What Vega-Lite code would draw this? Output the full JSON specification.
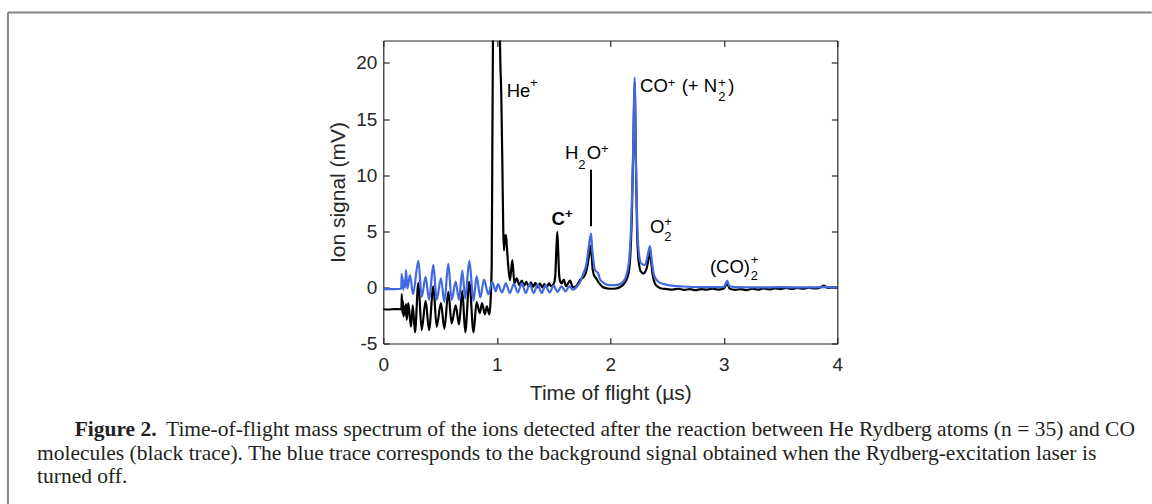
{
  "$schema": "https://vega.github.io/schema/vega-lite/v6.json",
  "autosize": "none",
  "width": 454,
  "height": 303,
  "padding": {"left": 383.3, "top": 40.5, "right": 314.7, "bottom": 160.5},
  "background": "white",
  "config": {
    "view": {"stroke": null},
    "font": "Liberation Sans",
    "axis": {
      "grid": false,
      "labelFlush": false,
      "domainColor": "#262626",
      "domainWidth": 1.2,
      "tickColor": "#262626",
      "tickWidth": 1.2,
      "tickSize": -6,
      "labelColor": "#262626",
      "labelFont": "Liberation Sans",
      "labelFontSize": 19,
      "titleColor": "#262626",
      "titleFont": "Liberation Sans",
      "titleFontSize": 21,
      "titleFontWeight": "normal"
    }
  },
  "title": {
    "text": "\u200b\u00a0\u00a0\u00a0\u00a0\u00a0\u00a0\u00a0Figure 2.",
    "subtitle": [
      "\u200b\u00a0\u00a0\u00a0\u00a0\u00a0\u00a0\u00a0\u00a0\u00a0\u00a0\u00a0\u00a0\u00a0\u00a0\u00a0\u00a0\u00a0\u00a0\u00a0\u00a0\u00a0\u00a0\u00a0\u00a0Time-of-flight mass spectrum of the ions detected after the reaction between He Rydberg atoms (n = 35) and CO",
      "molecules (black trace). The blue trace corresponds to the background signal obtained when the Rydberg-excitation laser is",
      "turned off."
    ],
    "orient": "bottom",
    "anchor": "start",
    "frame": "group",
    "dx": -346.3,
    "offset": -87,
    "font": "Liberation Serif",
    "fontSize": 21.5,
    "fontWeight": "bold",
    "color": "#231f20",
    "subtitleFont": "Liberation Serif",
    "subtitleFontSize": 21.5,
    "subtitleColor": "#231f20",
    "subtitleLineHeight": 23.5,
    "subtitlePadding": -21.5
  },
  "datasets": {
    "black": [
      {"t":0,"v":-1.95},{"t":0.05,"v":-1.97},{"t":0.1,"v":-1.93},{"t":0.155,"v":-1.95},{"t":0.16,"v":-1.8},{"t":0.163,"v":-0.6},{"t":0.168,"v":-2.3},{"t":0.173,"v":-1.2},{"t":0.178,"v":-2.6},{"t":0.186,"v":-1.7},{"t":0.193,"v":-2.4},{"t":0.2,"v":-1.5},{"t":0.206,"v":-2.9},{"t":0.22,"v":-1.4},{"t":0.244,"v":-3.5},{"t":0.26,"v":-1.6},{"t":0.279,"v":-4.0},{"t":0.309,"v":0.4},{"t":0.338,"v":-3.8},{"t":0.373,"v":-1.2},{"t":0.403,"v":-3.8},{"t":0.441,"v":0.1},{"t":0.47,"v":-3.5},{"t":0.508,"v":-1.4},{"t":0.538,"v":-3.7},{"t":0.573,"v":-0.4},{"t":0.602,"v":-3.2},{"t":0.638,"v":-1.6},{"t":0.667,"v":-3.3},{"t":0.696,"v":-0.3},{"t":0.722,"v":-4.0},{"t":0.758,"v":0.5},{"t":0.795,"v":-4.0},{"t":0.822,"v":-1.3},{"t":0.85,"v":-2.3},{"t":0.87,"v":-1.4},{"t":0.895,"v":-2.4},{"t":0.912,"v":-1.7},{"t":0.935,"v":-2.4},{"t":0.946,"v":-1.0},{"t":0.955,"v":2.1},{"t":0.96,"v":11},{"t":0.966,"v":22},{"t":0.975,"v":35},{"t":1.02,"v":35},{"t":1.028,"v":22},{"t":1.04,"v":16.9},{"t":1.049,"v":11},{"t":1.057,"v":5.1},{"t":1.063,"v":3.3},{"t":1.072,"v":4.5},{"t":1.081,"v":4.65},{"t":1.089,"v":3.6},{"t":1.1,"v":2.0},{"t":1.116,"v":0.65},{"t":1.137,"v":2.43},{"t":1.155,"v":0.36},{"t":1.175,"v":0.8},{"t":1.199,"v":0.2},{"t":1.22,"v":0.6},{"t":1.24,"v":0.15},{"t":1.26,"v":0.5},{"t":1.28,"v":0.1},{"t":1.3,"v":0.45},{"t":1.32,"v":0.05},{"t":1.34,"v":0.4},{"t":1.36,"v":0.0},{"t":1.38,"v":0.35},{"t":1.4,"v":0.0},{"t":1.42,"v":0.3},{"t":1.44,"v":0.0},{"t":1.46,"v":0.35},{"t":1.48,"v":0.1},{"t":1.505,"v":0.4},{"t":1.515,"v":1.0},{"t":1.525,"v":3.5},{"t":1.533,"v":4.95},{"t":1.541,"v":3.2},{"t":1.55,"v":1.0},{"t":1.56,"v":0.5},{"t":1.571,"v":0.35},{"t":1.59,"v":0.7},{"t":1.61,"v":0.1},{"t":1.645,"v":0.6},{"t":1.67,"v":0.0},{"t":1.703,"v":0.15},{"t":1.733,"v":0.65},{"t":1.777,"v":1.1},{"t":1.8,"v":2.0},{"t":1.815,"v":3.0},{"t":1.827,"v":3.7},{"t":1.836,"v":2.8},{"t":1.845,"v":1.6},{"t":1.856,"v":1.1},{"t":1.875,"v":0.8},{"t":1.903,"v":0.35},{"t":1.938,"v":0.0},{"t":1.997,"v":-0.12},{"t":2.05,"v":-0.1},{"t":2.115,"v":0.25},{"t":2.159,"v":1.2},{"t":2.175,"v":2.6},{"t":2.19,"v":6.5},{"t":2.203,"v":12.5},{"t":2.214,"v":18.3},{"t":2.225,"v":11.5},{"t":2.236,"v":5.0},{"t":2.25,"v":2.3},{"t":2.27,"v":1.4},{"t":2.29,"v":1.24},{"t":2.32,"v":1.7},{"t":2.338,"v":2.6},{"t":2.35,"v":3.17},{"t":2.36,"v":2.3},{"t":2.375,"v":1.0},{"t":2.395,"v":0.3},{"t":2.42,"v":0.05},{"t":2.45,"v":-0.1},{"t":2.5,"v":-0.15},{"t":2.55,"v":-0.2},{"t":2.6,"v":-0.12},{"t":2.65,"v":-0.22},{"t":2.7,"v":-0.15},{"t":2.75,"v":-0.25},{"t":2.8,"v":-0.15},{"t":2.85,"v":-0.2},{"t":2.9,"v":-0.12},{"t":2.95,"v":-0.2},{"t":3.0,"v":-0.1},{"t":3.03,"v":0.35},{"t":3.05,"v":-0.1},{"t":3.1,"v":-0.22},{"t":3.15,"v":-0.15},{"t":3.2,"v":-0.25},{"t":3.25,"v":-0.12},{"t":3.3,"v":-0.2},{"t":3.35,"v":-0.1},{"t":3.4,"v":-0.18},{"t":3.45,"v":-0.08},{"t":3.5,"v":-0.15},{"t":3.55,"v":-0.05},{"t":3.6,"v":-0.15},{"t":3.65,"v":-0.05},{"t":3.7,"v":-0.12},{"t":3.75,"v":-0.02},{"t":3.8,"v":-0.1},{"t":3.85,"v":0.0},{"t":3.88,"v":0.15},{"t":3.92,"v":-0.05},{"t":3.96,"v":0.0},{"t":4.0,"v":-0.02}
    ],
    "blue": [
      {"t":0,"v":-0.15},{"t":0.1,"v":-0.15},{"t":0.158,"v":-0.12},{"t":0.162,"v":1.2},{"t":0.166,"v":0.0},{"t":0.17,"v":0.9},{"t":0.175,"v":-0.2},{"t":0.185,"v":0.6},{"t":0.192,"v":0.0},{"t":0.2,"v":1.55},{"t":0.212,"v":-0.1},{"t":0.235,"v":1.1},{"t":0.262,"v":-0.6},{"t":0.309,"v":2.37},{"t":0.338,"v":-0.85},{"t":0.373,"v":0.95},{"t":0.403,"v":-1.1},{"t":0.441,"v":2.0},{"t":0.47,"v":-1.1},{"t":0.508,"v":0.8},{"t":0.538,"v":-1.3},{"t":0.573,"v":2.1},{"t":0.602,"v":-1.1},{"t":0.638,"v":0.5},{"t":0.667,"v":-1.1},{"t":0.696,"v":1.5},{"t":0.722,"v":-1.0},{"t":0.758,"v":2.37},{"t":0.795,"v":-1.2},{"t":0.822,"v":1.0},{"t":0.855,"v":-0.9},{"t":0.887,"v":0.7},{"t":0.925,"v":-0.6},{"t":0.96,"v":0.5},{"t":0.99,"v":-0.35},{"t":1.01,"v":0.3},{"t":1.045,"v":-0.45},{"t":1.08,"v":0.35},{"t":1.115,"v":-0.5},{"t":1.15,"v":0.3},{"t":1.185,"v":-0.45},{"t":1.22,"v":0.35},{"t":1.255,"v":-0.5},{"t":1.29,"v":0.3},{"t":1.325,"v":-0.5},{"t":1.36,"v":0.25},{"t":1.395,"v":-0.5},{"t":1.43,"v":0.2},{"t":1.465,"v":-0.45},{"t":1.5,"v":0.15},{"t":1.535,"v":-0.4},{"t":1.57,"v":0.1},{"t":1.605,"v":-0.35},{"t":1.64,"v":0.1},{"t":1.67,"v":-0.2},{"t":1.7,"v":0.0},{"t":1.735,"v":0.5},{"t":1.762,"v":1.24},{"t":1.79,"v":2.1},{"t":1.81,"v":3.6},{"t":1.83,"v":4.8},{"t":1.84,"v":3.5},{"t":1.865,"v":1.54},{"t":1.894,"v":1.24},{"t":1.91,"v":0.7},{"t":1.95,"v":0.35},{"t":2.0,"v":0.2},{"t":2.05,"v":0.2},{"t":2.115,"v":0.53},{"t":2.159,"v":1.86},{"t":2.188,"v":6.9},{"t":2.203,"v":12.8},{"t":2.214,"v":18.7},{"t":2.226,"v":11.3},{"t":2.238,"v":5.4},{"t":2.256,"v":2.7},{"t":2.276,"v":2.1},{"t":2.306,"v":2.0},{"t":2.326,"v":2.7},{"t":2.35,"v":3.67},{"t":2.365,"v":2.4},{"t":2.385,"v":1.1},{"t":2.424,"v":0.5},{"t":2.497,"v":0.23},{"t":2.643,"v":0.08},{"t":2.8,"v":0.02},{"t":3.0,"v":0.05},{"t":3.015,"v":0.3},{"t":3.03,"v":0.6},{"t":3.05,"v":0.1},{"t":3.1,"v":0.03},{"t":3.3,"v":0.0},{"t":3.5,"v":0.02},{"t":3.7,"v":0.0},{"t":3.9,"v":0.02},{"t":4.0,"v":0.0}
    ],
    "labels": [
      {"t":1.087,"v":17.0,"label":"He","part":"main","bold":false},
      {"t":1.292,"v":17.85,"label":"+","part":"script","bold":false},
      {"t":1.483,"v":5.54,"label":"C","part":"main","bold":true},
      {"t":1.601,"v":6.2,"label":"+","part":"script","bold":true},
      {"t":1.601,"v":11.46,"label":"H","part":"main","bold":false},
      {"t":1.718,"v":10.58,"label":"2","part":"script","bold":false},
      {"t":1.792,"v":11.46,"label":"O","part":"main","bold":false},
      {"t":1.919,"v":11.97,"label":"+","part":"script","bold":false},
      {"t":2.262,"v":17.39,"label":"CO","part":"main","bold":false},
      {"t":2.507,"v":17.9,"label":"+","part":"script","bold":false},
      {"t":2.629,"v":17.39,"label":"(+ N","part":"main","bold":false},
      {"t":2.952,"v":16.65,"label":"2","part":"script","bold":false},
      {"t":2.952,"v":17.9,"label":"+","part":"script","bold":false},
      {"t":3.04,"v":17.39,"label":")","part":"main","bold":false},
      {"t":2.35,"v":4.89,"label":"O","part":"main","bold":false},
      {"t":2.476,"v":5.5,"label":"+","part":"script","bold":false},
      {"t":2.476,"v":4.14,"label":"2","part":"script","bold":false},
      {"t":2.878,"v":1.3,"label":"(CO)","part":"main","bold":false},
      {"t":3.237,"v":2.05,"label":"+","part":"script","bold":false},
      {"t":3.237,"v":0.65,"label":"2","part":"script","bold":false}
    ],
    "marker": [{"t":1.83,"v":5.45,"v2":10.49}],
    "frame": [
      {"t":-3.307,"t2":6.77,"v":24.5,"v2":24.5},
      {"t":-3.307,"t2":-3.307,"v":24.5,"v2":-19.4}
    ]
  },
  "resolve": {"axis": {"x": "independent", "y": "independent"}},
  "layer": [
    {
      "data": {"name": "frame"},
      "mark": {"type": "rule", "stroke": "#858585", "strokeWidth": 2},
      "encoding": {
        "x": {"field": "t", "type": "quantitative", "scale": {"domain": [0, 4], "nice": false, "zero": false}, "axis": null},
        "x2": {"field": "t2"},
        "y": {"field": "v", "type": "quantitative", "scale": {"domain": [-5, 22], "nice": false, "zero": false}, "axis": null},
        "y2": {"field": "v2"}
      }
    },
    {
      "data": {"name": "black"},
      "mark": {"type": "line", "color": "#000000", "strokeWidth": 2.2, "clip": true, "interpolate": "monotone"},
      "encoding": {
        "x": {"field": "t", "type": "quantitative", "scale": {"domain": [0, 4], "nice": false, "zero": false},
              "axis": {"orient": "bottom", "values": [0, 1, 2, 3, 4], "labelPadding": 18, "title": "Time of flight (µs)", "titlePadding": 8}},
        "y": {"field": "v", "type": "quantitative", "scale": {"domain": [-5, 22], "nice": false, "zero": false},
              "axis": {"orient": "left", "values": [-5, 0, 5, 10, 15, 20], "labelPadding": 12.5, "labelExpr": "'' + datum.value", "title": "Ion signal (mV)", "titlePadding": 7}}
      }
    },
    {
      "data": {"name": "blue"},
      "mark": {"type": "line", "color": "#4169E1", "strokeWidth": 2.2, "clip": true, "interpolate": "monotone"},
      "encoding": {
        "x": {"field": "t", "type": "quantitative", "scale": {"domain": [0, 4], "nice": false, "zero": false},
              "axis": {"orient": "top", "values": [0, 1, 2, 3, 4], "labels": false, "title": null}},
        "y": {"field": "v", "type": "quantitative", "scale": {"domain": [-5, 22], "nice": false, "zero": false},
              "axis": {"orient": "right", "values": [-5, 0, 5, 10, 15, 20], "labels": false, "title": null}}
      }
    },
    {
      "data": {"name": "marker"},
      "mark": {"type": "rule", "color": "#000000", "strokeWidth": 2},
      "encoding": {
        "x": {"field": "t", "type": "quantitative", "scale": {"domain": [0, 4], "nice": false, "zero": false}, "axis": null},
        "y": {"field": "v", "type": "quantitative", "scale": {"domain": [-5, 22], "nice": false, "zero": false}, "axis": null},
        "y2": {"field": "v2"}
      }
    },
    {
      "data": {"name": "labels"},
      "transform": [{"filter": "!datum.bold"}],
      "mark": {"type": "text", "align": "left", "baseline": "alphabetic", "color": "#000000", "font": "Liberation Sans"},
      "encoding": {
        "x": {"field": "t", "type": "quantitative", "scale": {"domain": [0, 4], "nice": false, "zero": false}, "axis": null},
        "y": {"field": "v", "type": "quantitative", "scale": {"domain": [-5, 22], "nice": false, "zero": false}, "axis": null},
        "text": {"field": "label"},
        "size": {"field": "part", "type": "ordinal", "scale": {"domain": ["main", "script"], "range": [18.5, 13]}, "legend": null}
      }
    },
    {
      "data": {"name": "labels"},
      "transform": [{"filter": "datum.bold"}],
      "mark": {"type": "text", "align": "left", "baseline": "alphabetic", "color": "#000000", "font": "Liberation Sans", "fontWeight": "bold"},
      "encoding": {
        "x": {"field": "t", "type": "quantitative", "scale": {"domain": [0, 4], "nice": false, "zero": false}, "axis": null},
        "y": {"field": "v", "type": "quantitative", "scale": {"domain": [-5, 22], "nice": false, "zero": false}, "axis": null},
        "text": {"field": "label"},
        "size": {"field": "part", "type": "ordinal", "scale": {"domain": ["main", "script"], "range": [18.5, 13]}, "legend": null}
      }
    }
  ]
}
